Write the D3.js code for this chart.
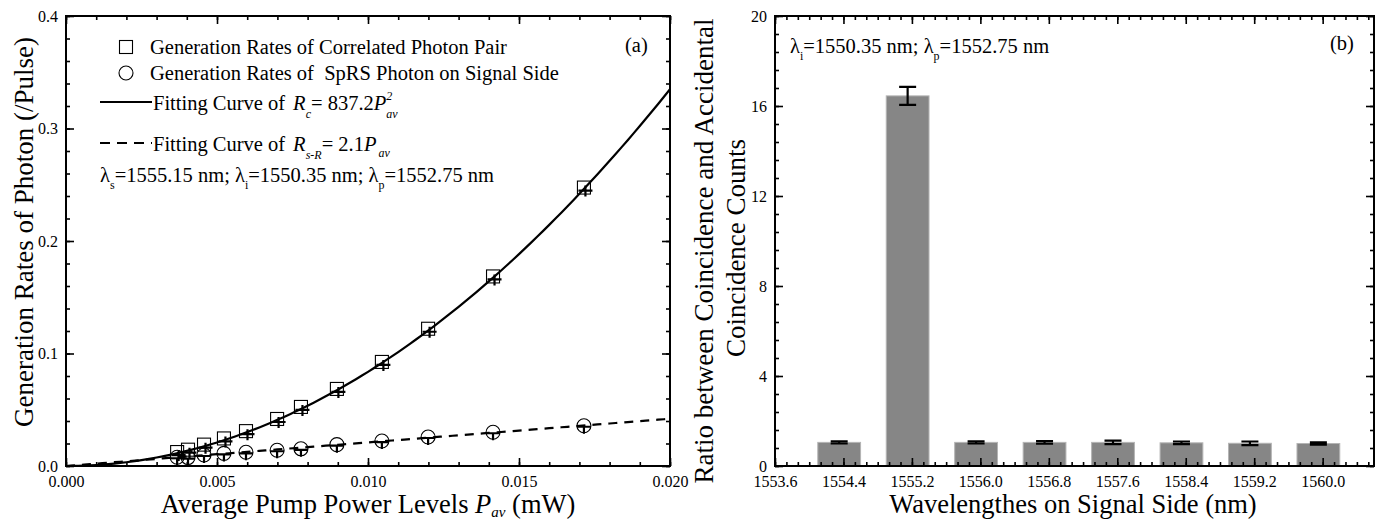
<!DOCTYPE html>
<html>
<head>
<meta charset="utf-8">
<script src="https://cdn.jsdelivr.net/npm/d3@7"></script>
<style>
  body { margin: 0; background: #fff; }
  svg text { font-family: "Liberation Serif", "Times New Roman", serif; fill: #000; }
</style>
</head>
<body>
<svg id="svg" width="1384" height="523"></svg>
<script>
/**
 * DATA
 * */
// panel (a): average pump power (mW) and generation rates (/pulse)
const pumpPower = [0.00368, 0.00404, 0.00457, 0.00523, 0.00596, 0.00699, 0.00778, 0.00897, 0.01046, 0.01199, 0.01414, 0.01715];
const pairRates = [0.0124, 0.0145, 0.019, 0.0245, 0.031, 0.0418, 0.0525, 0.0685, 0.0925, 0.122, 0.1685, 0.2475];
const sprsRates = [0.0078, 0.0075, 0.0098, 0.0112, 0.0122, 0.014, 0.0153, 0.019, 0.0222, 0.0258, 0.030, 0.0358];
const fitPairCoef = 837.2;   // Rc = 837.2 Pav^2
const fitSprsCoef = 2.1;     // Rs-R = 2.1 Pav
const xTicksA = [0, 0.005, 0.010, 0.015, 0.020];
const yTicksA = [0, 0.1, 0.2, 0.3, 0.4];

// panel (b): signal wavelength (nm) and coincidence / accidental ratio
const wavelengths = [1554.35, 1555.15, 1555.95, 1556.75, 1557.55, 1558.35, 1559.15, 1559.95];
const ratios      = [1.05, 16.45, 1.05, 1.05, 1.05, 1.03, 1.01, 1.0];
const ratioErrors = [0.05, 0.4, 0.05, 0.06, 0.08, 0.06, 0.08, 0.05];
const xTicksB = [1553.6, 1554.4, 1555.2, 1556.0, 1556.8, 1557.6, 1558.4, 1559.2, 1560.0];
const yTicksB = [0, 4, 8, 12, 16, 20];

const svg = d3.select("#svg");

const A = { left: 66, right: 670, top: 16, bottom: 466 };
const B = { left: 775, right: 1374, top: 16, bottom: 466 };

// draws inward ticks on all four sides + frame
function frame(p, x, y, xMajor, xMinor, yMajor, yMinor, xFmt, yFmt) {
  const g = svg.append("g");
  const side = (axis, tx, ty, vals, size, fmt, pad) => {
    const a = axis.tickValues(vals).tickSize(size).tickPadding(pad).tickFormat(fmt);
    const s = g.append("g").attr("transform", `translate(${tx},${ty})`).call(a);
    s.select(".domain").remove();
    s.selectAll("line").attr("stroke", "#000").attr("stroke-width", 1.6);
    s.selectAll("text").attr("font-size", 16).attr("font-family", "Liberation Serif");
    return s;
  };
  side(d3.axisBottom(x), 0, p.bottom, xMajor, -8, xFmt, 10);
  side(d3.axisBottom(x), 0, p.bottom, xMinor, -4, () => "", 10);
  side(d3.axisTop(x), 0, p.top, xMajor, -8, () => "", 4);
  side(d3.axisTop(x), 0, p.top, xMinor, -4, () => "", 4);
  side(d3.axisLeft(y), p.left, 0, yMajor, -8, yFmt, 8);
  side(d3.axisLeft(y), p.left, 0, yMinor, -4, () => "", 8);
  side(d3.axisRight(y), p.right, 0, yMajor, -8, () => "", 4);
  side(d3.axisRight(y), p.right, 0, yMinor, -4, () => "", 4);
  g.append("rect")
    .attr("x", p.left).attr("y", p.top)
    .attr("width", p.right - p.left).attr("height", p.bottom - p.top)
    .attr("fill", "none").attr("stroke", "#000").attr("stroke-width", 2);
}

/**
 * PANEL (a)
 * */
const xA = d3.scaleLinear().domain([0, 0.02]).range([A.left, A.right]);
const yA = d3.scaleLinear().domain([0, 0.4]).range([A.bottom, A.top]);

svg.append("clipPath").attr("id", "clipA")
  .append("rect").attr("x", A.left).attr("y", A.top)
  .attr("width", A.right - A.left).attr("height", A.bottom - A.top);

const fitX = d3.range(0, 0.02001, 0.0002);
const line = d3.line().x(d => xA(d[0])).y(d => yA(d[1]));

const plotA = svg.append("g").attr("clip-path", "url(#clipA)");
plotA.append("path")
  .attr("d", line(fitX.map(p => [p, fitPairCoef * p * p])))
  .attr("fill", "none").attr("stroke", "#000").attr("stroke-width", 2.2);
plotA.append("path")
  .attr("d", line(fitX.map(p => [p, fitSprsCoef * p])))
  .attr("fill", "none").attr("stroke", "#000").attr("stroke-width", 2.2)
  .attr("stroke-dasharray", "9,7");

// circles
plotA.selectAll(".circ").data(pumpPower).join("circle")
  .attr("cx", d => xA(d)).attr("cy", (d, i) => yA(sprsRates[i]))
  .attr("r", 7).attr("fill", "none").attr("stroke", "#000").attr("stroke-width", 1.1);
// squares
plotA.selectAll(".sq").data(pumpPower).join("rect")
  .attr("x", d => xA(d) - 6.5).attr("y", (d, i) => yA(pairRates[i]) - 6.5)
  .attr("width", 13).attr("height", 13).attr("fill", "none").attr("stroke", "#000").attr("stroke-width", 1.1);

// crosses on the points
function crosses(vals, dx, dy, up, down, half) {
  plotA.append("g").selectAll("path").data(pumpPower).join("path")
    .attr("d", (d, i) => {
      const cx = xA(d) + dx, cy = yA(vals[i]) + dy;
      return `M${cx - half},${cy}H${cx + half}M${cx},${cy - up}V${cy + down}`;
    })
    .attr("stroke", "#000").attr("stroke-width", 2.2).attr("fill", "none");
}
crosses(pairRates, 1.5, 3, 5, 6, 7);
crosses(sprsRates, 0, 1, 1, 7, 7);

frame(A, xA, yA, xTicksA, d3.range(0, 0.02001, 0.001), yTicksA, d3.range(0, 0.4001, 0.02),
  d3.format(".3f"), d3.format(".1f"));

// axis titles
svg.append("text").attr("x", 368).attr("y", 513).attr("text-anchor", "middle").attr("font-size", 26.5)
  .call(t => {
    t.append("tspan").text("Average Pump Power Levels ");
    t.append("tspan").attr("font-style", "italic").text("P");
    t.append("tspan").attr("font-style", "italic").attr("font-size", 15).attr("dy", 4).text("av");
    t.append("tspan").attr("dy", -4).text(" (mW)");
  });
svg.append("text").attr("transform", "translate(33,232) rotate(-90)").attr("text-anchor", "middle")
  .attr("font-size", 27).text("Generation Rates of Photon (/Pulse)");

// legend (a)
const leg = svg.append("g").attr("font-size", 20.5);
leg.append("rect").attr("x", 119.5).attr("y", 40.5).attr("width", 13).attr("height", 13)
  .attr("fill", "none").attr("stroke", "#000").attr("stroke-width", 1.1);
leg.append("text").attr("x", 150).attr("y", 54).text("Generation Rates of Correlated Photon Pair");
leg.append("circle").attr("cx", 126).attr("cy", 73).attr("r", 7).attr("fill", "none")
  .attr("stroke", "#000").attr("stroke-width", 1.1);
leg.append("text").attr("x", 150).attr("y", 80).attr("xml:space", "preserve")
  .text("Generation Rates of  SpRS Photon on Signal Side");
leg.append("line").attr("x1", 100).attr("x2", 152).attr("y1", 102).attr("y2", 102)
  .attr("stroke", "#000").attr("stroke-width", 2.2);
leg.append("text").attr("x", 153).attr("y", 110).call(t => {
  t.append("tspan").text("Fitting Curve of");
  t.append("tspan").attr("dx", 8).attr("font-style", "italic").text("R");
  t.append("tspan").attr("font-style", "italic").attr("font-size", 12).attr("dy", 8).text("c");
  t.append("tspan").attr("dy", -8).text("= 837.2");
  t.append("tspan").attr("font-style", "italic").text("P");
  t.append("tspan").attr("font-size", 12).attr("font-style", "italic").attr("dy", -10).text("2");
  t.append("tspan").attr("font-size", 12).attr("font-style", "italic").attr("dx", -6).attr("dy", 18).text("av");
});
leg.append("line").attr("x1", 100).attr("x2", 152).attr("y1", 143).attr("y2", 143)
  .attr("stroke", "#000").attr("stroke-width", 2.2).attr("stroke-dasharray", "10,7");
leg.append("text").attr("x", 153).attr("y", 151).call(t => {
  t.append("tspan").text("Fitting Curve of");
  t.append("tspan").attr("dx", 8).attr("font-style", "italic").text("R");
  t.append("tspan").attr("font-style", "italic").attr("font-size", 12).attr("dy", 8).text("s-R");
  t.append("tspan").attr("dy", -8).text("= 2.1");
  t.append("tspan").attr("font-style", "italic").text("P");
  t.append("tspan").attr("font-size", 12).attr("font-style", "italic").attr("dy", 6).attr("dx", 2).text("av");
});

function lambdaText(g, x, y, parts) {
  g.append("text").attr("x", x).attr("y", y).attr("font-size", 20.5).call(t => {
    parts.forEach(([sub, rest]) => {
      t.append("tspan").text("λ");
      t.append("tspan").attr("font-size", 12).attr("dy", 7).text(sub);
      t.append("tspan").attr("dy", -7).text(rest);
    });
  });
}
lambdaText(leg, 100, 182, [["s", "=1555.15 nm; "], ["i", "=1550.35 nm; "], ["p", "=1552.75 nm"]]);
svg.append("text").attr("x", 625).attr("y", 52).attr("font-size", 20.5).text("(a)");

/**
 * PANEL (b)
 * */
const xB = d3.scaleLinear().domain([1553.6, 1560.6]).range([B.left, B.right]);
const yB = d3.scaleLinear().domain([0, 20]).range([B.bottom, B.top]);

const bars = svg.append("g");
bars.selectAll("rect").data(wavelengths).join("rect")
  .attr("x", d => xB(d - 0.25)).attr("width", d => xB(d + 0.25) - xB(d - 0.25))
  .attr("y", (d, i) => yB(ratios[i])).attr("height", (d, i) => yB(0) - yB(ratios[i]))
  .attr("fill", "#868686").attr("stroke", "#b4b4b4").attr("stroke-width", 1);

bars.selectAll("path").data(wavelengths).join("path")
  .attr("d", (d, i) => {
    const cx = xB(d), y1 = yB(ratios[i] + ratioErrors[i]), y0 = yB(ratios[i] - ratioErrors[i]);
    return `M${cx - 8.5},${y1}H${cx + 8.5}M${cx},${y1}V${y0}M${cx - 8.5},${y0}H${cx + 8.5}`;
  })
  .attr("stroke", "#000").attr("stroke-width", 2.2).attr("fill", "none");

frame(B, xB, yB, xTicksB, d3.range(1553.6, 1560.61, 0.8 / 6), yTicksB, d3.range(0, 20.01, 0.8),
  d3.format(".1f"), d3.format("d"));

svg.append("text").attr("x", 1073).attr("y", 513).attr("text-anchor", "middle").attr("font-size", 26.5)
  .text("Wavelengthes on Signal Side (nm)");
svg.append("text").attr("transform", "translate(713,251) rotate(-90)").attr("text-anchor", "middle")
  .attr("font-size", 27).text("Ratio between Coincidence and Accidental");
svg.append("text").attr("transform", "translate(745,248) rotate(-90)").attr("text-anchor", "middle")
  .attr("font-size", 27).text("Coincidence Counts");

lambdaText(svg, 790, 53, [["i", "=1550.35 nm; "], ["p", "=1552.75 nm"]]);
svg.append("text").attr("x", 1330).attr("y", 50).attr("font-size", 20.5).text("(b)");
</script>
</body>
</html>
